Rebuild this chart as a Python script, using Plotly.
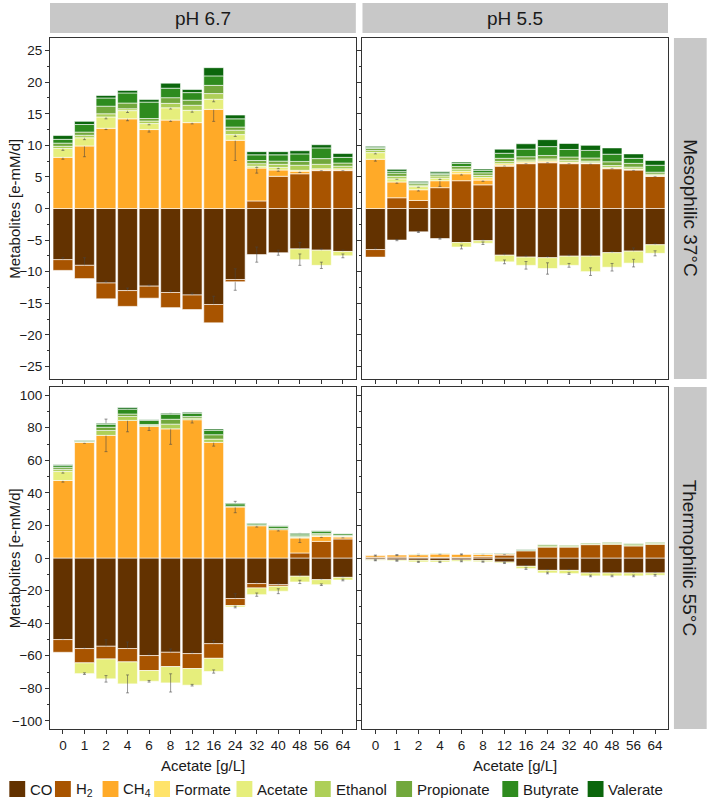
import plotly.graph_objects as go

# ---------------- data ----------------
categories = ['0', '1', '2', '4', '6', '8', '12', '16', '24', '32', '40', '48', '56', '64']
series_names = ['CO', 'H<sub>2</sub>', 'CH<sub>4</sub>', 'Formate', 'Acetate',
                'Ethanol', 'Propionate', 'Butyrate', 'Valerate']
series_colors = ['#633200', '#A85400', '#FFAA28', '#FFE36A', '#E6EE7C',
                 '#AECF58', '#72A83C', '#2E8B1E', '#0B660C']

# Mesophilic 37 C, pH 6.7
m67_co = [-8.1, -9.0, -11.8, -13.0, -12.3, -13.3, -13.7, -15.2, -11.25, -7.3, -7.0, -6.4, -6.6, -6.8]
m67_h2 = [-1.7, -2.1, -2.5, -2.5, -1.9, -2.4, -2.3, -2.9, -0.35, 1.2, 5.1, 5.5, 6.0, 6.0]
m67_ch4 = [8.1, 9.9, 12.7, 14.2, 12.5, 14.0, 13.6, 15.7, 10.8, 5.2, 1.0, 0.4, 0.1, 0.1]
m67_formate = [0, 0, 0, 0, 0, 0, 0, 0, 0, 0, 0, 0.15, 0.2, 0.2]
m67_acetate = [1.4, 1.3, 1.8, 1.3, 0.95, 1.95, 1.95, 1.6, 0.9, 0.3, 0.4, -1.7, -2.4, -0.7]
m67_ethanol = [0.35, 0.4, 0.5, 0.3, 0.4, 0.7, 0.8, 0.9, 0.7, 0.4, 0.5, 0.8, 0.7, 0.4]
m67_propionate = [0.5, 0.5, 1.2, 0.9, 0.4, 0.9, 0.8, 1.3, 0.5, 0.5, 0.5, 0.6, 0.9, 0.5]
m67_butyrate = [0.6, 1.2, 1.3, 1.6, 2.6, 1.5, 1.2, 1.5, 1.3, 0.9, 1.0, 1.2, 1.7, 0.9]
m67_valerate = [0.6, 0.5, 0.4, 0.4, 0.4, 0.8, 0.5, 1.3, 0.6, 0.5, 0.5, 0.5, 0.5, 0.6]

# Mesophilic 37 C, pH 5.5
m55_co = [-6.5, -5.0, -3.7, -4.75, -5.4, -5.1, -7.4, -7.7, -7.8, -7.55, -7.55, -7.0, -6.75, -5.75]
m55_h2 = [-1.2, 1.7, 1.27, 3.3, 4.4, 3.75, 6.7, 7.1, 7.25, 7.1, 7.1, 6.3, 6.1, 5.1]
m55_ch4 = [7.8, 2.5, 1.7, 1.1, 1.1, 0.75, 0.15, 0.1, 0.1, 0.1, 0.05, 0.1, 0.05, 0.05]
m55_formate = [0, 0, 0, 0, 0.4, 0.4, 0.25, 0.2, 0.2, 0.15, 0.1, 0.1, 0.1, 0.1]
m55_acetate = [1.05, 0.5, 0.5, 0.4, -0.7, -0.4, -1.05, -1.3, -1.7, -1.45, -2.45, -2.3, -1.9, -1.35]
m55_ethanol = [0.35, 0.4, 0.25, 0.35, 0.35, 0.35, 0.35, 0.3, 0.3, 0.3, 0.25, 0.3, 0.3, 0.2]
m55_propionate = [0.3, 0.5, 0.25, 0.25, 0.4, 0.4, 0.5, 0.5, 0.55, 0.5, 0.5, 0.6, 0.6, 0.3]
m55_butyrate = [0.2, 0.3, 0.2, 0.2, 0.5, 0.4, 0.8, 1.2, 1.4, 1.2, 1.2, 1.2, 0.8, 1.1]
m55_valerate = [0.15, 0.3, 0.15, 0.2, 0.2, 0.2, 0.65, 0.85, 1.1, 0.95, 0.8, 1.0, 0.7, 0.75]

# Thermophilic 55 C, pH 6.7
t67_co = [-50.1, -55.6, -54.2, -55.6, -59.9, -57.9, -58.7, -52.6, -24.9, -15.7, -16.4, -11.2, -13.3, -11.9]
t67_h2 = [-7.8, -8.8, -7.8, -8.2, -9.2, -8.8, -9.2, -9.0, -4.3, -2.7, -1.0, 3.1, 10.2, 11.7]
t67_ch4 = [47.6, 71.0, 75.3, 84.5, 80.8, 79.3, 84.9, 71.0, 31.3, 19.8, 17.4, 9.2, 3.1, 1.2]
t67_formate = [0, 0, 0, 0, 0, 0, 0, 0, 0, 0, 0, 0.3, 0.3, 0.3]
t67_acetate = [5.5, -6.6, -12.2, -13.5, -6.6, -10.0, -10.2, -8.1, -0.9, -4.1, -3.0, -3.5, -3.1, -1.6]
t67_ethanol = [1.2, 0.3, 3.0, 2.4, 0.6, 2.9, 1.0, 2.0, 0, 0, 0, 0.5, 0.7, 0.3]
t67_propionate = [1.2, 0.3, 2.0, 1.5, 0.6, 3.0, 1.0, 2.7, 0.5, 0.6, 0.8, 0.6, 0.8, 0.4]
t67_butyrate = [1.2, 0.5, 1.8, 3.0, 2.5, 3.1, 2.0, 2.7, 1.5, 1.0, 1.4, 1.0, 1.4, 1.0]
t67_valerate = [0.5, 0.3, 0.6, 1.0, 0.4, 0.6, 0.6, 0.8, 0.4, 0.1, 0.2, 0.5, 0.3, 0.2]

# Thermophilic 55 C, pH 5.5
t55_co = [-1.0, -1.2, -1.4, -1.5, -1.2, -1.5, -2.5, -5.1, -7.6, -7.6, -9.2, -9.2, -9.2, -9.2]
t55_h2 = [0.5, 0.6, 0.4, 0.4, 0.4, 0.8, 1.8, 4.4, 6.7, 6.7, 8.2, 8.4, 7.4, 8.4]
t55_ch4 = [1.0, 1.2, 1.6, 2.0, 1.8, 1.5, 0.6, 0, 0, 0, 0, 0, 0, 0]
t55_formate = [0, 0, 0, 0, 0, 0, 0, 0, 0, 0, 0, 0, 0, 0]
t55_acetate = [-0.4, -0.5, -1.0, -1.0, -0.8, -0.8, -0.6, -1.4, -1.6, -2.0, -1.8, -1.8, -1.8, -1.4]
t55_ethanol = [0, 0, 0.3, 0.3, 0, 0.2, 0, 0, 0.7, 0.6, 0.5, 0.6, 0.7, 0.6]
t55_propionate = [0, 0, 0, 0, 0, 0.2, 0, 0, 0.7, 0.5, 0.5, 0.6, 0.7, 0.6]
t55_butyrate = [0, 0, 0, 0, 0, 0, 0.4, 0.5, 0, 0, 0, 0, 0, 0]
t55_valerate = [0, 0, 0, 0, 0, 0, 0.2, 0.3, 0, 0, 0, 0, 0, 0]

# standard deviations (error bars) of selected series
m67_co_sd = [0.3, 1.2, 0.3, 0.4, 0.2, 0.3, 0.3, 1.3, 1.7, 1.2, 0.4, 1.0, 0.2, 0.2]
m67_ch4_sd = [0.3, 1.7, 0.2, 0.3, 0.4, 0.2, 0.2, 1.9, 3.2, 0.8, 0.2, 0.2, 0.1, 0.1]
m67_acetate_sd = [0.3, 0.3, 0.3, 0.3, 0.2, 0.2, 0.3, 0.4, 0.3, 0.2, 0.2, 0.9, 0.5, 0.3]
m55_co_sd = [0.2, 0.1, 0.1, 0.1, 0.1, 0.1, 0.2, 0.2, 0.2, 0.2, 0.2, 0.2, 0.5, 0.2]
m55_ch4_sd = [0.3, 0.2, 0.2, 0.9, 0.2, 0.2, 0.1, 0.1, 0.1, 0.1, 0.1, 0.1, 0.1, 0.1]
m55_acetate_sd = [0.2, 0.1, 0.1, 0.2, 0.3, 0.2, 0.3, 0.6, 0.9, 0.3, 0.6, 0.6, 0.6, 0.4]
t67_co_sd = [0.5, 0.5, 4.0, 4.0, 1.0, 2.0, 1.0, 2.0, 3.0, 1.0, 1.0, 1.5, 0.5, 0.5]
t67_ch4_sd = [1.0, 0.5, 10.0, 7.0, 2.5, 9.5, 2.0, 2.3, 3.5, 0.8, 0.8, 2.8, 0.6, 0.5]
t67_acetate_sd = [1.0, 0.5, 2.0, 5.5, 0.5, 5.6, 0.5, 1.0, 0.5, 1.0, 1.5, 1.0, 0.5, 0.5]
t55_co_sd = [0.3, 0.3, 0.3, 0.3, 0.3, 0.3, 0.3, 0.5, 0.5, 0.5, 0.5, 0.5, 0.5, 0.5]
t55_ch4_sd = [0.3, 0.3, 0.3, 0.3, 0.3, 0.3, 0.3, 0.3, 0.3, 0.3, 0.3, 0.3, 0.3, 0.3]
t55_acetate_sd = [0.3, 0.3, 0.3, 0.3, 0.3, 0.3, 0.3, 0.5, 0.5, 0.5, 0.5, 0.5, 0.5, 0.5]

col_labels = ['pH 6.7', 'pH 5.5']
row_labels = ['Mesophilic 37°C', 'Thermophilic 55°C']
x_title = 'Acetate [g/L]'
y_title = 'Metabolites [e-mM/d]'

# ---------------- layout helpers ----------------
W, H = 709, 801
L, R, T, B = 45, 668, 38, 729          # plot-area in pixels
PW, PH = R - L, B - T


def px(xp):
    return (xp - L) / PW


def py(yp):
    return (B - yp) / PH


FONT = 'Liberation Sans, Arial, sans-serif'
TXT = '#1a1a1a'
AX = '#333333'

panels = [
    ('x', 'y', [m67_co, m67_h2, m67_ch4, m67_formate, m67_acetate, m67_ethanol, m67_propionate, m67_butyrate, m67_valerate],
     {0: m67_co_sd, 2: m67_ch4_sd, 4: m67_acetate_sd}),
    ('x2', 'y2', [m55_co, m55_h2, m55_ch4, m55_formate, m55_acetate, m55_ethanol, m55_propionate, m55_butyrate, m55_valerate],
     {0: m55_co_sd, 2: m55_ch4_sd, 4: m55_acetate_sd}),
    ('x3', 'y3', [t67_co, t67_h2, t67_ch4, t67_formate, t67_acetate, t67_ethanol, t67_propionate, t67_butyrate, t67_valerate],
     {0: t67_co_sd, 2: t67_ch4_sd, 4: t67_acetate_sd}),
    ('x4', 'y4', [t55_co, t55_h2, t55_ch4, t55_formate, t55_acetate, t55_ethanol, t55_propionate, t55_butyrate, t55_valerate],
     {0: t55_co_sd, 2: t55_ch4_sd, 4: t55_acetate_sd}),
]

fig = go.Figure()
for xa, ya, series, sds in panels:
    for i, vals in enumerate(series):
        yv = [v if v != 0 else None for v in vals]      # empty segments are not drawn
        eb = None
        if i in sds:
            eb = dict(type='data', array=sds[i], color='rgba(70,70,70,0.7)', thickness=0.8, width=1.5)
        fig.add_trace(go.Bar(
            x=categories, y=yv, name=series_names[i], xaxis=xa, yaxis=ya,
            marker=dict(color=series_colors[i], line=dict(color='rgba(255,255,255,0.85)', width=0.7)),
            error_y=eb, showlegend=False, hoverinfo='skip'))

# domains
xd_left = [0, px(353.3)]
xd_right = [px(360), 1]
yd_top = [py(379), 1]
yd_bot = [0, py(387)]

common_x = dict(type='category', range=[-0.6, 13.6], showline=True, mirror=True, linecolor=AX, linewidth=1,
                ticks='outside', ticklen=4, tickcolor=AX, showgrid=False, zeroline=False,
                tickfont=dict(family=FONT, size=13.5, color=TXT))
common_y = dict(showline=True, mirror=True, linecolor=AX, linewidth=1, ticks='outside', ticklen=4,
                tickcolor=AX, showgrid=False, zeroline=False, tickfont=dict(family=FONT, size=13.5, color=TXT))

fig.update_layout(
    width=W, height=H, margin=dict(l=L, r=W - R, t=T, b=H - B),
    paper_bgcolor='white', plot_bgcolor='white', barmode='relative', bargap=0.08,
    showlegend=False, font=dict(family=FONT, color=TXT),
    xaxis=dict(common_x, domain=xd_left, anchor='y', showticklabels=False),
    xaxis2=dict(common_x, domain=xd_right, anchor='y2', showticklabels=False),
    xaxis3=dict(common_x, domain=xd_left, anchor='y3'),
    xaxis4=dict(common_x, domain=xd_right, anchor='y4'),
    yaxis=dict(common_y, domain=yd_top, anchor='x', range=[-27, 27], dtick=5,
               minor=dict(ticks='outside', ticklen=2, dtick=2.5, tickcolor=AX)),
    yaxis2=dict(common_y, domain=yd_top, anchor='x2', range=[-27, 27], dtick=5, showticklabels=False,
                minor=dict(ticks='outside', ticklen=2, dtick=2.5, tickcolor=AX)),
    yaxis3=dict(common_y, domain=yd_bot, anchor='x3', range=[-105, 105], dtick=20,
                minor=dict(ticks='outside', ticklen=2, dtick=10, tickcolor=AX)),
    yaxis4=dict(common_y, domain=yd_bot, anchor='x4', range=[-105, 105], dtick=20, showticklabels=False,
                minor=dict(ticks='outside', ticklen=2, dtick=10, tickcolor=AX)),
)

shapes = []
annotations = []
STRIP = '#C8C8C8'
# column strips
for (x0, x1), lab in zip([xd_left, xd_right], col_labels):
    shapes.append(dict(type='rect', xref='paper', yref='paper', x0=x0, x1=x1, y0=py(33), y1=py(3),
                       fillcolor=STRIP, line=dict(width=0)))
    annotations.append(dict(xref='paper', yref='paper', x=(x0 + x1) / 2, y=py(18.5), text=lab, showarrow=False,
                            font=dict(family=FONT, size=19, color=TXT), xanchor='center', yanchor='middle'))
# row strips
for (y0, y1), lab in zip([yd_top, yd_bot], row_labels):
    shapes.append(dict(type='rect', xref='paper', yref='paper', x0=px(674), x1=px(707), y0=y0, y1=y1,
                       fillcolor=STRIP, line=dict(width=0)))
    annotations.append(dict(xref='paper', yref='paper', x=px(690.5), y=(y0 + y1) / 2, text=lab, showarrow=False,
                            textangle=90, font=dict(family=FONT, size=19, color=TXT),
                            xanchor='center', yanchor='middle'))
# axis titles
for (x0, x1) in [xd_left, xd_right]:
    annotations.append(dict(xref='paper', yref='paper', x=(x0 + x1) / 2, y=py(765), text=x_title,
                            showarrow=False, font=dict(family=FONT, size=15, color=TXT),
                            xanchor='center', yanchor='middle'))
for (y0, y1) in [yd_top, yd_bot]:
    annotations.append(dict(xref='paper', yref='paper', x=px(9), y=(y0 + y1) / 2, text=y_title,
                            showarrow=False, textangle=-90, font=dict(family=FONT, size=15, color=TXT),
                            xanchor='center', yanchor='middle'))
# legend (drawn manually so it fits on one row like the original)
legend_square_x = [4, 50, 98, 150, 233, 312, 394, 501, 587]
for sx, lab, col in zip(legend_square_x, series_names, series_colors):
    shapes.append(dict(type='rect', xref='paper', yref='paper', x0=px(sx), x1=px(sx + 16),
                       y0=py(797), y1=py(781), fillcolor=col, line=dict(width=0)))
    annotations.append(dict(xref='paper', yref='paper', x=px(sx + 19), y=py(789), text=lab, showarrow=False,
                            font=dict(family=FONT, size=15, color=TXT), xanchor='left', yanchor='middle'))

fig.update_layout(shapes=shapes, annotations=annotations)
fig.write_html('out.html', config={'displayModeBar': False},
               post_script="document.body.style.margin='0';document.body.style.overflow='hidden';")
